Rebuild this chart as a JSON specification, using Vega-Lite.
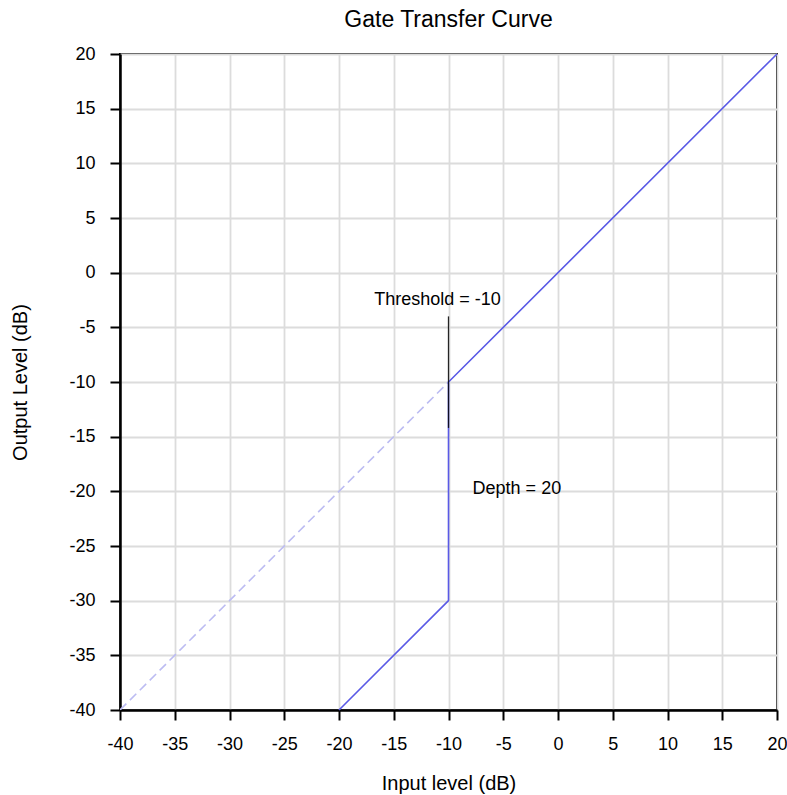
{
  "$schema": "https://vega.github.io/schema/vega-lite/v6.json",
  "autosize": "none",
  "width": 657,
  "height": 656,
  "padding": {"left": 120, "top": 54, "right": 10, "bottom": 85},
  "background": "white",
  "title": {"text": "Gate Transfer Curve", "font": "Liberation Sans", "fontSize": 23, "fontWeight": "normal", "color": "#000", "offset": 13},
  "config": {
    "view": {"stroke": "#000", "strokeWidth": 2},
    "axis": {
      "labelFont": "Liberation Sans", "labelFontSize": 18, "labelColor": "#000", "labelFlush": false, "labelOverlap": false,
      "titleFont": "Liberation Sans", "titleFontSize": 20, "titleFontWeight": "normal", "titleColor": "#000",
      "domainColor": "#000", "domainWidth": 2.5, "tickColor": "#000", "tickWidth": 2, "tickSize": 10,
      "gridColor": "#dcdcdc", "gridWidth": 1.8,
      "labelExpr": "'' + datum.value"
    }
  },
  "datasets": {
    "lines": [
      {"series": "ungated", "order": 1, "input": -40, "output": -40},
      {"series": "ungated", "order": 2, "input": -10, "output": -10},
      {"series": "gate", "order": 1, "input": -20, "output": -40},
      {"series": "gate", "order": 2, "input": -10, "output": -30},
      {"series": "gate", "order": 3, "input": -10, "output": -10},
      {"series": "gate", "order": 4, "input": 20, "output": 20},
      {"series": "marker", "order": 1, "input": -10, "output": -4},
      {"series": "marker", "order": 2, "input": -10, "output": -14.2}
    ],
    "labels": [
      {"text": "Threshold = -10", "input": -11, "output": -2.5, "align": "center"},
      {"text": "Depth = 20", "input": -7.8, "output": -19.8, "align": "left"}
    ]
  },
  "layer": [
    {
      "data": {"name": "lines"},
      "transform": [{"filter": "datum.series === 'ungated'"}],
      "mark": {"type": "line", "color": "#bcbcf2", "strokeWidth": 1.6, "strokeDash": [9, 5], "clip": true},
      "encoding": {
        "x": {"field": "input", "type": "quantitative", "scale": {"domain": [-40, 20], "nice": false, "zero": false},
          "axis": {"values": [-40,-35,-30,-25,-20,-15,-10,-5,0,5,10,15,20], "title": "Input level (dB)", "labelPadding": 15, "titlePadding": 20}},
        "y": {"field": "output", "type": "quantitative", "scale": {"domain": [-40, 20], "nice": false, "zero": false},
          "axis": {"values": [-40,-35,-30,-25,-20,-15,-10,-5,0,5,10,15,20], "title": "Output Level (dB)", "labelPadding": 15, "titlePadding": 38}},
        "order": {"field": "order"}
      }
    },
    {
      "data": {"name": "lines"},
      "transform": [{"filter": "datum.series === 'gate'"}],
      "mark": {"type": "line", "color": "#5a5ae6", "strokeWidth": 1.6},
      "encoding": {
        "x": {"field": "input", "type": "quantitative"},
        "y": {"field": "output", "type": "quantitative"},
        "order": {"field": "order"}
      }
    },
    {
      "data": {"name": "lines"},
      "transform": [{"filter": "datum.series === 'marker'"}],
      "mark": {"type": "line", "color": "#000", "strokeWidth": 1.3, "opacity": 0.85},
      "encoding": {
        "x": {"field": "input", "type": "quantitative"},
        "y": {"field": "output", "type": "quantitative"},
        "order": {"field": "order"}
      }
    },
    {
      "data": {"name": "labels"},
      "transform": [{"filter": "datum.align === 'center'"}],
      "mark": {"type": "text", "font": "Liberation Sans", "fontSize": 18, "color": "#000", "align": "center", "baseline": "middle"},
      "encoding": {
        "x": {"field": "input", "type": "quantitative"},
        "y": {"field": "output", "type": "quantitative"},
        "text": {"field": "text"}
      }
    },
    {
      "data": {"name": "labels"},
      "transform": [{"filter": "datum.align === 'left'"}],
      "mark": {"type": "text", "font": "Liberation Sans", "fontSize": 18, "color": "#000", "align": "left", "baseline": "middle"},
      "encoding": {
        "x": {"field": "input", "type": "quantitative"},
        "y": {"field": "output", "type": "quantitative"},
        "text": {"field": "text"}
      }
    }
  ]
}
